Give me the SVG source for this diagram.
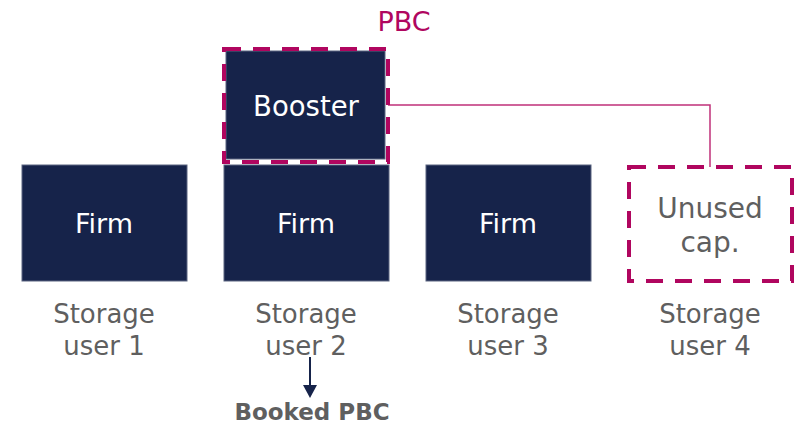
<svg xmlns="http://www.w3.org/2000/svg" width="794" height="426" viewBox="0 0 794 426">
<defs>
<style>
.box{fill:#16234a;stroke:#5a6480;stroke-width:1}
.dash{fill:none;stroke:#b0065f;stroke-width:4;stroke-dasharray:17 12}
.wt{font-family:"DejaVu Sans",sans-serif;font-size:27px;fill:#ffffff;text-anchor:middle}
.wb{font-family:"DejaVu Sans",sans-serif;font-size:27.5px;fill:#ffffff;text-anchor:middle}
.gt{font-family:"DejaVu Sans",sans-serif;font-size:26px;fill:#5f5f5f;text-anchor:middle}
.ut{font-family:"DejaVu Sans",sans-serif;font-size:28px;fill:#5f5f5f;text-anchor:middle}
.bt{font-family:"DejaVu Sans",sans-serif;font-size:23px;font-weight:bold;fill:#5f5f5f;text-anchor:middle}
.pt{font-family:"DejaVu Sans",sans-serif;font-size:27px;fill:#b0065f;text-anchor:middle}
</style>
</defs>
<g id="connectors">
<polyline points="388,105 710,105 710,167" fill="none" stroke="#c0307a" stroke-width="1.5"/>
<line x1="310" y1="357" x2="310" y2="386" stroke="#16234a" stroke-width="2"/>
<polygon points="303,385 317,385 310,398" fill="#16234a"/>
</g>
<g id="pbc">
<text class="pt" x="404" y="31">PBC</text>
</g>
<g id="booster">
<rect class="box" x="226" y="51" width="159" height="108"/>
<rect class="dash" x="224" y="49" width="164" height="113"/>
<text class="wb" x="306" y="116">Booster</text>
</g>
<g id="user1">
<rect class="box" x="22" y="165" width="165" height="116"/>
<text class="wt" x="104" y="233">Firm</text>
<text class="gt" x="104" y="323">Storage</text>
<text class="gt" x="104" y="355">user 1</text>
</g>
<g id="user2">
<rect class="box" x="224" y="165" width="165" height="116"/>
<text class="wt" x="306" y="233">Firm</text>
<text class="gt" x="306" y="323">Storage</text>
<text class="gt" x="306" y="355">user 2</text>
</g>
<g id="user3">
<rect class="box" x="426" y="165" width="165" height="116"/>
<text class="wt" x="508" y="233">Firm</text>
<text class="gt" x="508" y="323">Storage</text>
<text class="gt" x="508" y="355">user 3</text>
</g>
<g id="user4">
<rect class="dash" x="629" y="167" width="163" height="114"/>
<text class="ut" x="710" y="218">Unused</text>
<text class="ut" x="710" y="252">cap.</text>
<text class="gt" x="710" y="323">Storage</text>
<text class="gt" x="710" y="355">user 4</text>
</g>
<g id="booked">
<text class="bt" x="312" y="420">Booked PBC</text>
</g>
</svg>
